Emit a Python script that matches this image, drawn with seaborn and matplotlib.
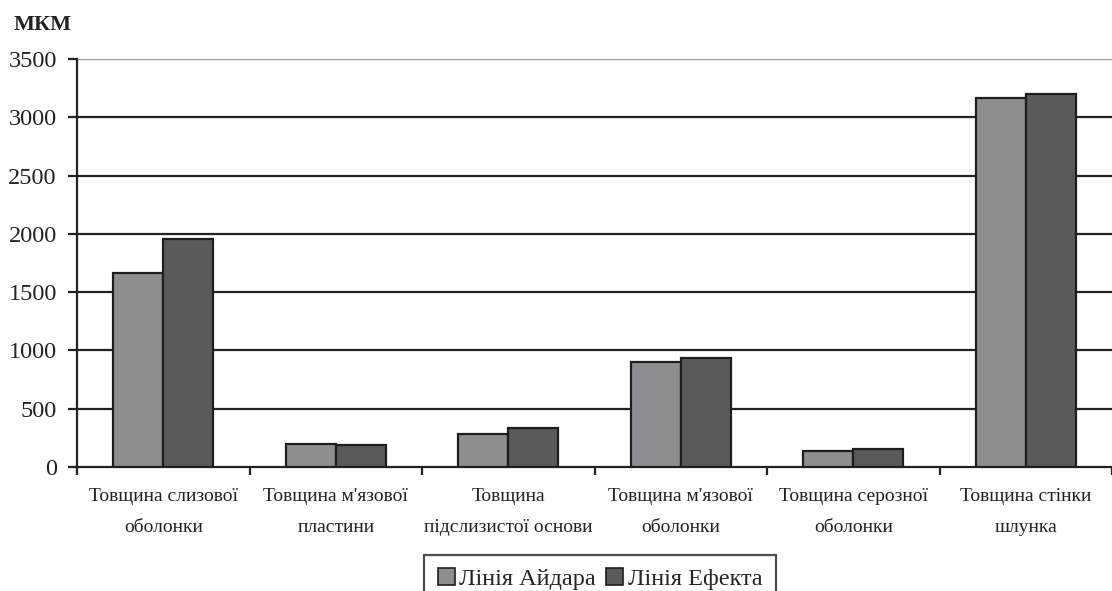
import matplotlib
matplotlib.use("Agg")
import matplotlib.pyplot as plt
import seaborn as sns
import pandas as pd
from matplotlib.patches import Patch

categories = [
    "Товщина слизової\nоболонки",
    "Товщина м'язової\nпластини",
    "Товщина\nпідслизистої основи",
    "Товщина м'язової\nоболонки",
    "Товщина серозної\nоболонки",
    "Товщина стінки\nшлунка",
]
series_names = ["Лінія Айдара", "Лінія Ефекта"]
aidar_values = [1665, 197, 282, 900, 140, 3163]
efekt_values = [1956, 186, 335, 934, 158, 3196]
y_ticks = [0, 500, 1000, 1500, 2000, 2500, 3000, 3500]
unit_label = "МКМ"

df = pd.DataFrame({
    "category": categories * 2,
    "line": [series_names[0]] * len(categories) + [series_names[1]] * len(categories),
    "value": aidar_values + efekt_values,
})

sns.set_theme(style="white")
plt.rcParams["font.family"] = ["Liberation Serif", "DejaVu Serif"]

fig = plt.figure(figsize=(11.12, 5.91), dpi=100)
ax = fig.add_axes([77 / 1112, 1 - 467 / 591, 1 - 77 / 1112, (467 - 59) / 591])

palette = {series_names[0]: "#8d8e92", series_names[1]: "#5a5a5d"}
sns.barplot(
    data=df, x="category", y="value", hue="line", order=categories,
    hue_order=series_names, palette=palette, width=0.58, gap=0,
    edgecolor="#1e1e1e", linewidth=1.6, saturation=1, legend=False, ax=ax,
    zorder=3,
)

ax.set_ylim(0, 3500)
ax.set_xlim(-0.5, len(categories) - 0.5)
ax.set_yticks(y_ticks)
ax.set_yticklabels([str(t) for t in y_ticks], fontsize=17.5)
for t in y_ticks[1:-1]:
    ax.axhline(t, color="#222222", lw=1.6, zorder=1)
ax.axhline(3500, color="#999999", lw=1.6, zorder=1)

# category ticks sit on the boundaries between groups
ax.set_xticks([i - 0.5 for i in range(len(categories) + 1)], minor=False)
ax.set_xticklabels([])
ax.set_xticks(range(len(categories)), minor=True)
ax.set_xticklabels(categories, minor=True, fontsize=14, linespacing=2.1,
                   color="#222222")
ax.tick_params(axis="x", which="minor", length=0, pad=15)
ax.tick_params(axis="x", which="major", direction="out", length=6, width=1.6,
               color="#222222", bottom=True)
ax.tick_params(axis="y", direction="out", length=6.5, width=1.6, color="#222222",
               left=True, pad=8, labelcolor="#222222")
ax.set_xlabel("")
ax.set_ylabel("")

for side in ["top", "right"]:
    ax.spines[side].set_visible(False)
for side in ["left", "bottom"]:
    ax.spines[side].set_color("#222222")
    ax.spines[side].set_linewidth(1.6)

fig.text(14 / 1112, 1 - 25 / 591, unit_label, fontsize=16, fontweight="bold",
         va="center", ha="left", color="#222222")

handles = [Patch(facecolor=palette[n], edgecolor="#1e1e1e", linewidth=1.2) for n in series_names]
leg = fig.legend(handles, series_names, loc="upper center",
                 bbox_to_anchor=(600 / 1112, 1 - 555 / 591), ncol=2, frameon=True,
                 fontsize=17.5, handlelength=0.7, handleheight=0.7,
                 handletextpad=0.2, columnspacing=0.4, borderpad=0.55,
                 borderaxespad=0, fancybox=False, edgecolor="#222222")
leg.get_frame().set_linewidth(1.6)

fig.savefig("out.png", dpi=100)
